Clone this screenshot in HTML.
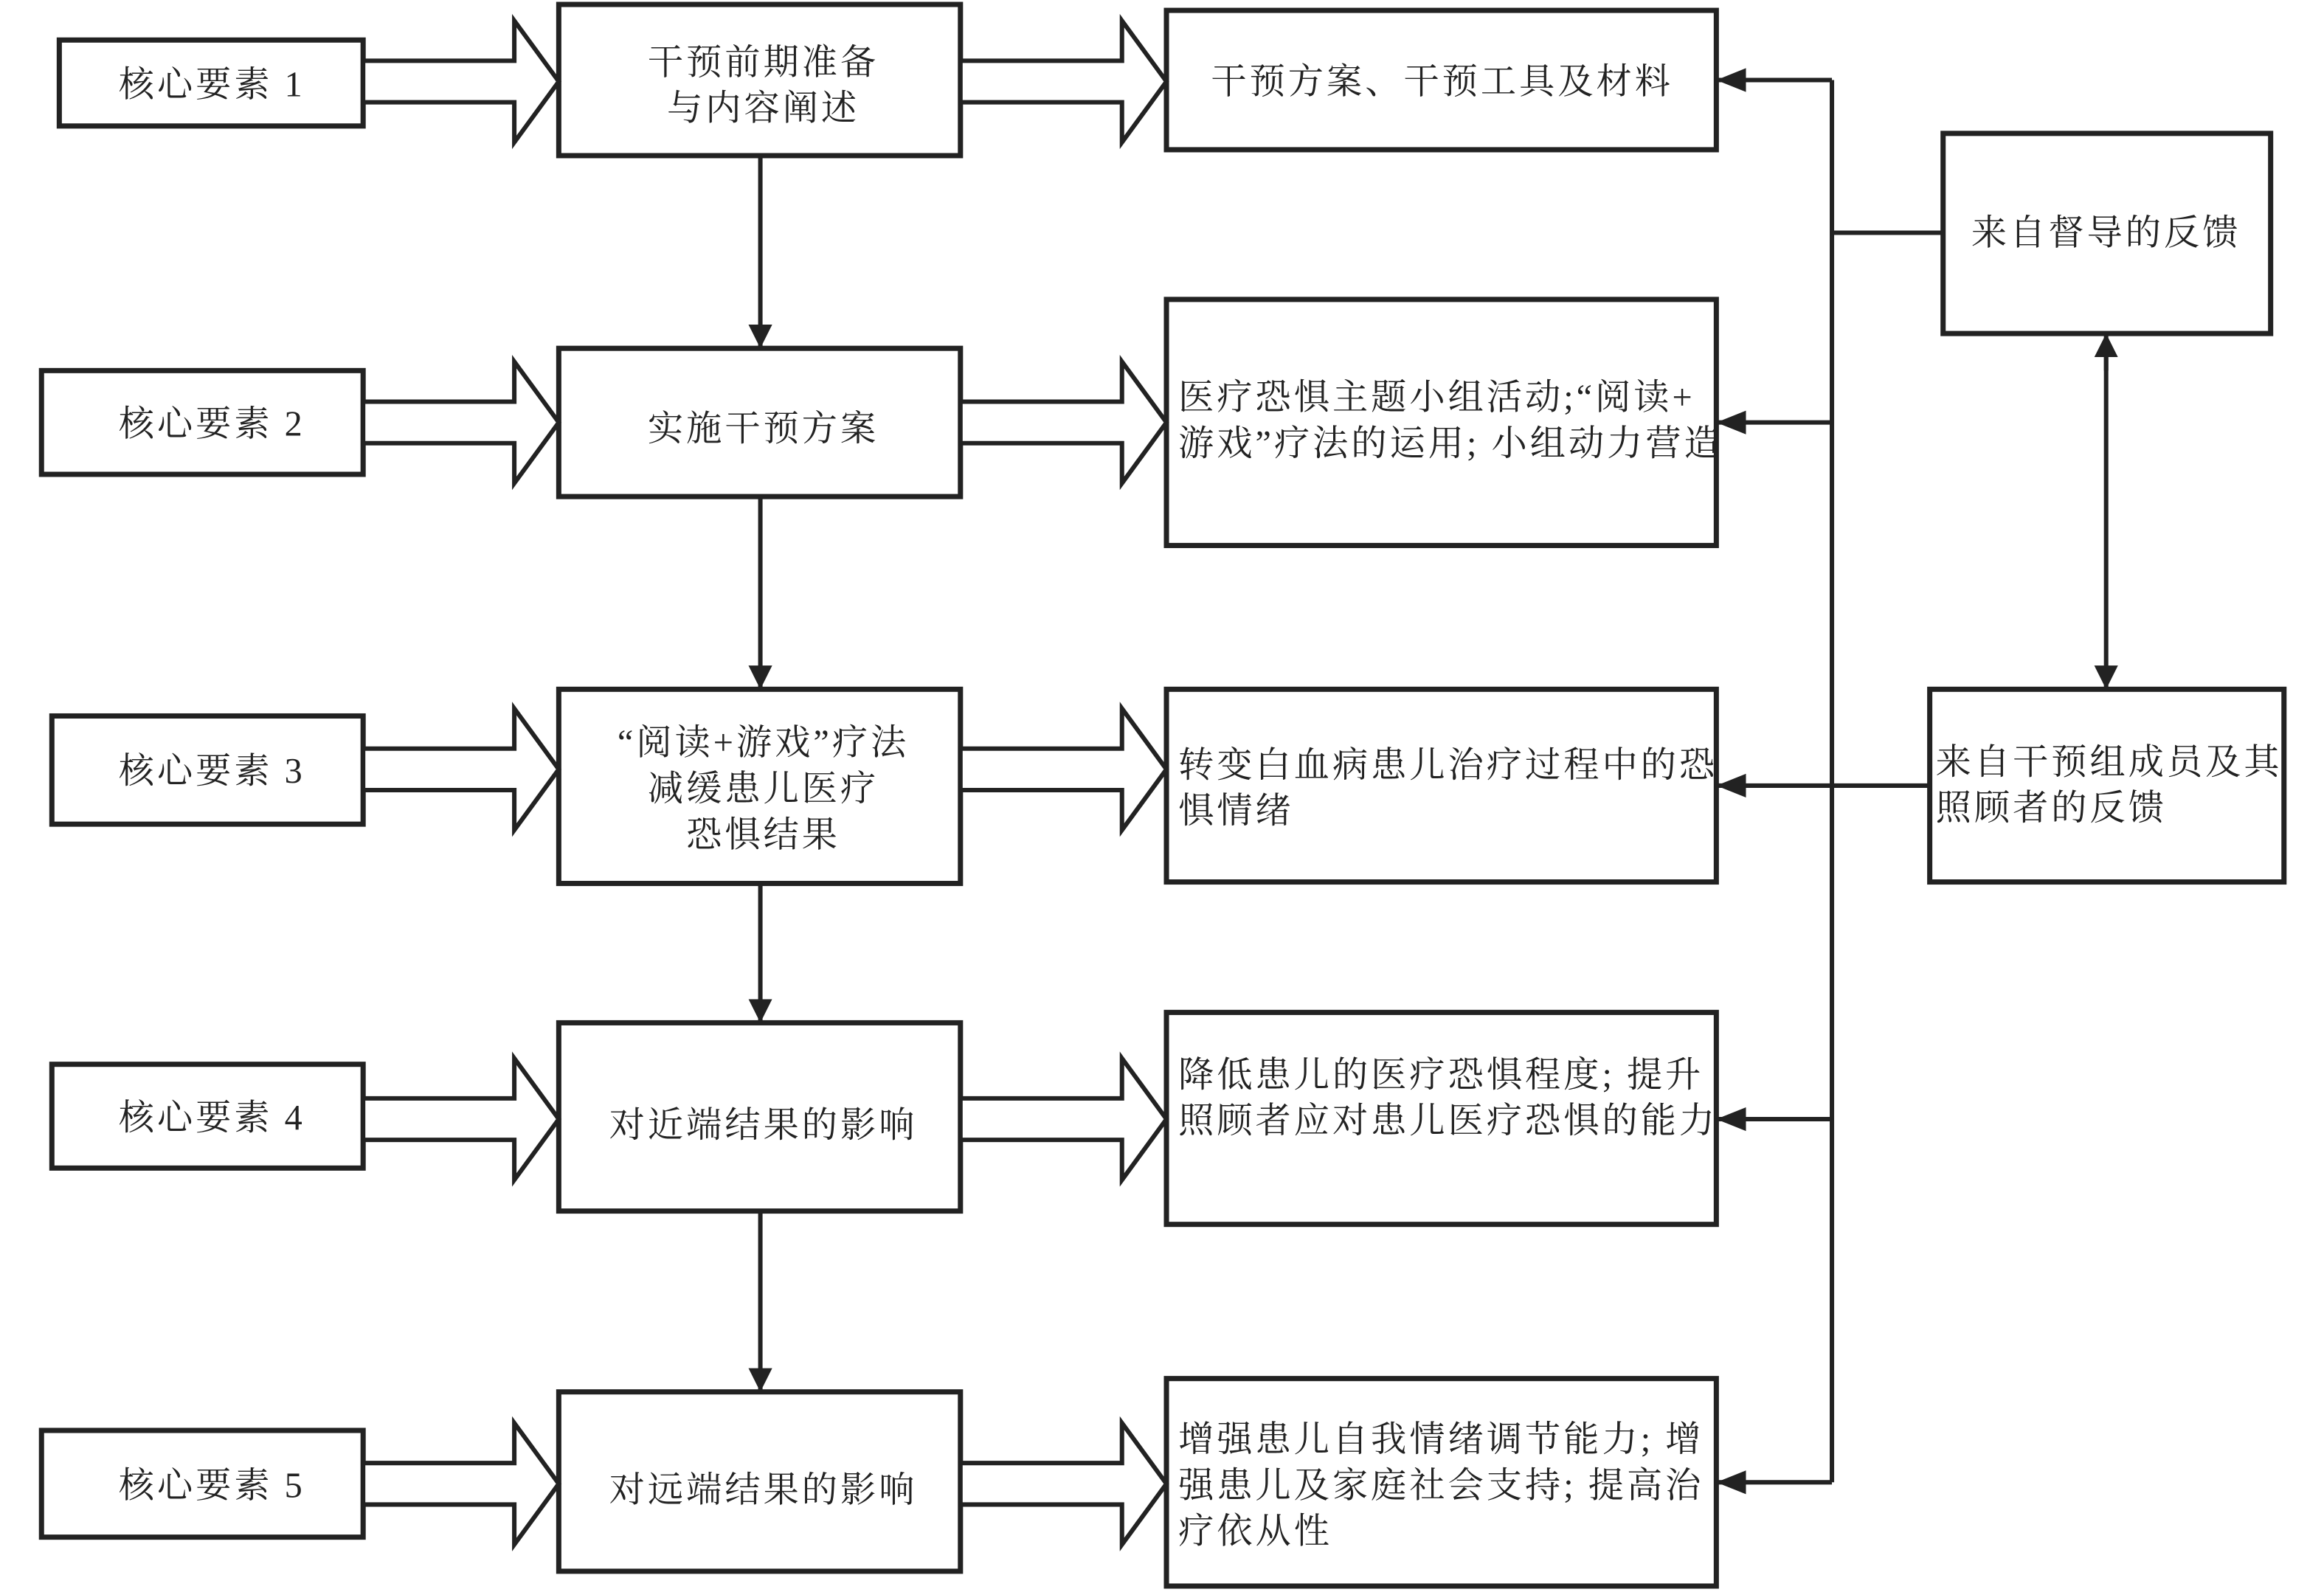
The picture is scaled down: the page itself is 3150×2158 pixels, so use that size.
<!DOCTYPE html>
<html><head><meta charset="utf-8"><style>
html,body{margin:0;padding:0;background:#fff;}
svg{display:block;}
text{font-family:"Liberation Serif","Noto Serif CJK SC","Noto Sans CJK SC",serif;font-size:24px;fill:#222;letter-spacing:2px;}
</style></head><body>
<svg width="3150" height="2158" viewBox="0 0 1568 1074" preserveAspectRatio="none" xmlns="http://www.w3.org/2000/svg">
<defs>
<marker id="ah" markerWidth="10" markerHeight="10" refX="9" refY="5" orient="auto" markerUnits="userSpaceOnUse">
<path d="M0,0 L10,5 L0,10 Z" fill="#222"/>
</marker>
<marker id="ah2" viewBox="0 0 20 30" markerWidth="20" markerHeight="30" refX="20" refY="15" orient="auto" markerUnits="userSpaceOnUse">
<path d="M0,7 L20,15 L0,23 Z" fill="#222"/>
</marker>
<marker id="av" viewBox="0 0 16 32" markerWidth="16" markerHeight="32" refX="16" refY="16" orient="auto" markerUnits="userSpaceOnUse">
<path d="M0,8 L16,16 L0,24 Z" fill="#222"/>
</marker>
</defs>
<g fill="#fff" stroke="#222" stroke-width="3.5">
<rect x="40" y="27" width="205" height="58"/>
<rect x="28" y="250" width="217" height="70"/>
<rect x="35" y="483" width="210" height="73"/>
<rect x="35" y="718" width="210" height="70"/>
<rect x="28" y="965" width="217" height="72"/>
<rect x="377" y="3" width="271" height="102"/>
<rect x="377" y="235" width="271" height="100"/>
<rect x="377" y="465" width="271" height="131"/>
<rect x="377" y="690" width="271" height="127"/>
<rect x="377" y="939" width="271" height="121"/>
<rect x="787" y="7" width="371" height="94"/>
<rect x="787" y="202" width="371" height="166"/>
<rect x="787" y="465" width="371" height="130"/>
<rect x="787" y="683" width="371" height="143"/>
<rect x="787" y="930" width="371" height="140"/>
<rect x="1311" y="90" width="221" height="135"/>
<rect x="1302" y="465" width="239" height="130"/>
</g>
<!-- hollow arrows -->
<g fill="#fff" stroke="#222" stroke-width="3" stroke-linejoin="miter">
<polygon points="245,41 347,41 347,14 377,55 347,96 347,69 245,69"/>
<polygon points="245,271 347,271 347,244 377,285 347,326 347,299 245,299"/>
<polygon points="245,505 347,505 347,478 377,519 347,560 347,533 245,533"/>
<polygon points="245,741 347,741 347,714 377,755 347,796 347,769 245,769"/>
<polygon points="245,987 347,987 347,960 377,1001 347,1042 347,1015 245,1015"/>
<polygon points="648,41 757,41 757,14 787,55 757,96 757,69 648,69"/>
<polygon points="648,271 757,271 757,244 787,285 757,326 757,299 648,299"/>
<polygon points="648,505 757,505 757,478 787,519 757,560 757,533 648,533"/>
<polygon points="648,741 757,741 757,714 787,755 757,796 757,769 648,769"/>
<polygon points="648,987 757,987 757,960 787,1001 757,1042 757,1015 648,1015"/>
</g>
<!-- vertical arrows -->
<g stroke="#222" stroke-width="3" fill="none">
<line x1="513" y1="105" x2="513" y2="235" marker-end="url(#av)"/>
<line x1="513" y1="335" x2="513" y2="465" marker-end="url(#av)"/>
<line x1="513" y1="596" x2="513" y2="690" marker-end="url(#av)"/>
<line x1="513" y1="817" x2="513" y2="939" marker-end="url(#av)"/>
<line x1="1236" y1="54" x2="1236" y2="1000"/>
<line x1="1236" y1="157" x2="1311" y2="157"/>
<line x1="1236" y1="54" x2="1158" y2="54" marker-end="url(#ah2)"/>
<line x1="1236" y1="285" x2="1158" y2="285" marker-end="url(#ah2)"/>
<line x1="1302" y1="530" x2="1158" y2="530" marker-end="url(#ah2)"/>
<line x1="1236" y1="755" x2="1158" y2="755" marker-end="url(#ah2)"/>
<line x1="1236" y1="1000" x2="1158" y2="1000" marker-end="url(#ah2)"/>
<line x1="1421" y1="250" x2="1421" y2="225" marker-end="url(#av)"/>
<line x1="1421" y1="240" x2="1421" y2="465" marker-end="url(#av)"/>
</g>
<!-- text -->
<g text-anchor="middle">
<text x="143" y="65">核心要素 1</text>
<text x="143" y="294">核心要素 2</text>
<text x="143" y="528">核心要素 3</text>
<text x="143" y="762">核心要素 4</text>
<text x="143" y="1010">核心要素 5</text>
<text x="515" y="50">干预前期准备</text>
<text x="515" y="81">与内容阐述</text>
<text x="515" y="297">实施干预方案</text>
<text x="515" y="509">“阅读+游戏”疗法</text>
<text x="515" y="540">减缓患儿医疗</text>
<text x="515" y="571">恐惧结果</text>
<text x="515" y="767">对近端结果的影响</text>
<text x="515" y="1013">对远端结果的影响</text>
<text x="973" y="63">干预方案、干预工具及材料</text>
<text x="1421" y="165">来自督导的反馈</text>
</g>
<g>
<text x="795" y="276">医疗恐惧主题小组活动;“阅读+</text>
<text x="795" y="307">游戏”疗法的运用; 小组动力营造</text>
<text x="795" y="524">转变白血病患儿治疗过程中的恐</text>
<text x="795" y="555">惧情绪</text>
<text x="795" y="733">降低患儿的医疗恐惧程度; 提升</text>
<text x="795" y="764">照顾者应对患儿医疗恐惧的能力</text>
<text x="795" y="979">增强患儿自我情绪调节能力; 增</text>
<text x="795" y="1010">强患儿及家庭社会支持; 提高治</text>
<text x="795" y="1041">疗依从性</text>
<text x="1306" y="522">来自干预组成员及其</text>
<text x="1306" y="553">照顾者的反馈</text>
</g>
</svg>
</body></html>
